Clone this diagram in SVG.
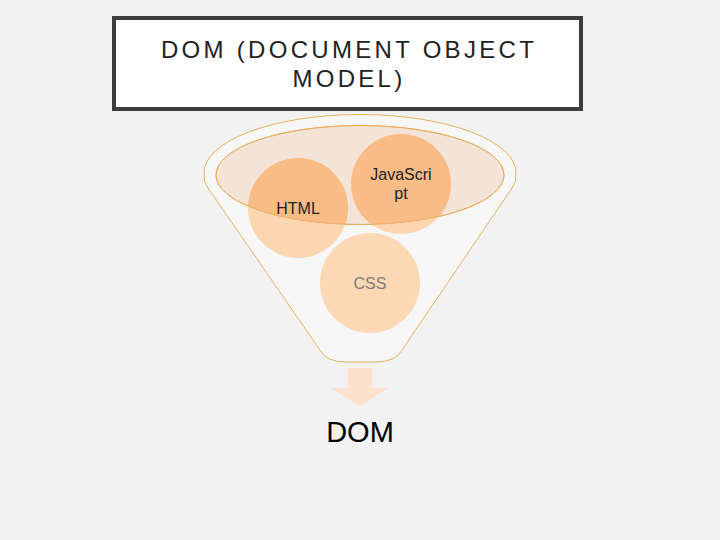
<svg xmlns="http://www.w3.org/2000/svg" width="720" height="540" viewBox="0 0 720 540">
<style>
.t{font-family:"Liberation Sans",Arial,sans-serif;}
.dark{fill:#f9bc86;}
.light{fill:#fcd6b1;}
</style>
<defs>
<clipPath id="ellClip"><ellipse cx="360" cy="175" rx="144" ry="49.5"/></clipPath>
</defs>
<rect width="720" height="540" fill="#f2f2f2"/>
<g id="title">
<rect x="114" y="18" width="467" height="91" fill="#ffffff" stroke="#3d3d3d" stroke-width="4"/>
<text class="t" x="349" y="58" font-size="24" letter-spacing="3.3" text-anchor="middle" fill="#222">DOM (DOCUMENT OBJECT</text>
<text class="t" x="349" y="87" font-size="24" letter-spacing="3.3" text-anchor="middle" fill="#222">MODEL)</text>
</g>
<g id="funnel">
<path d="M 208,188 Q 203,181 204,173 A 156 58.5 0 0 1 516,173 Q 517,181 512,188 L 402,350 Q 396,362 375,362 L 346,362 Q 326,362 320,350 Z" fill="#f7f7f7" stroke="#e3b25e" stroke-width="1"/>
<ellipse cx="360" cy="175" rx="144" ry="49.5" fill="#f4e4d8" stroke="#e9b060" stroke-width="1"/>
</g>
<g id="html">
<circle cx="298" cy="208" r="50" class="light"/>
<circle cx="298" cy="208" r="50" class="dark" clip-path="url(#ellClip)"/>
</g>
<g id="javascript">
<circle cx="401" cy="184" r="50" class="light"/>
<circle cx="401" cy="184" r="50" class="dark" clip-path="url(#ellClip)"/>
</g>
<g id="css">
<circle cx="370" cy="283" r="50" fill="#fdd8b5"/>
<text class="t" x="370" y="289" font-size="16" text-anchor="middle" fill="#7a7a7a">CSS</text>
</g>
<ellipse cx="360" cy="175" rx="144" ry="49.5" fill="none" stroke="#e9b060" stroke-width="1"/>
<text class="t" x="298" y="214" font-size="16" text-anchor="middle" fill="#222">HTML</text>
<text class="t" x="401" y="180" font-size="16" text-anchor="middle" fill="#222">JavaScri</text>
<text class="t" x="401" y="199" font-size="16" text-anchor="middle" fill="#222">pt</text>
<g id="connectors">
<path d="M 348,368 L 372,368 L 372,388 L 388,388 L 360,406 L 331,388 L 348,388 Z" fill="#fde0cc"/>
</g>
<g id="dom">
<text class="t" x="360" y="442" font-size="29" text-anchor="middle" fill="#000">DOM</text>
</g>
</svg>
